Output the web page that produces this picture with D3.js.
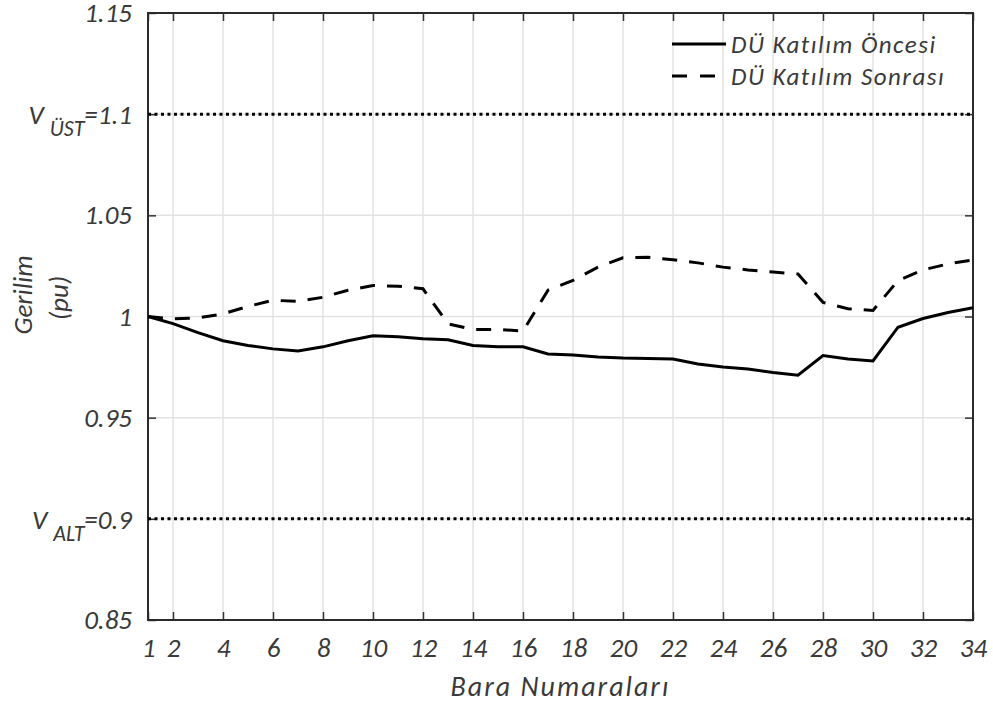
<!DOCTYPE html>
<html>
<head>
<meta charset="utf-8">
<script src="https://d3js.org/d3.v7.min.js"></script>
<style>
    body { margin: 0; background: #fff; }
    svg text { font-family: Carlito, Calibri, Lato, sans-serif; font-style: italic; fill: #3a3a3a; }
</style>
</head>
<body>
<div id="chart"></div>
<script>
// bus numbers 1..34
var buses = d3.range(1, 35);

// voltage before DG participation (pu)
var beforeDG = [1.000, 0.9965, 0.992, 0.988, 0.9857, 0.984, 0.983, 0.985, 0.988, 0.9905,
    0.990, 0.989, 0.9885, 0.9857, 0.985, 0.985, 0.9815, 0.981, 0.980, 0.9795,
    0.9793, 0.979, 0.9765, 0.975, 0.974, 0.9723, 0.971, 0.9807, 0.979, 0.978,
    0.9947, 0.999, 1.002, 1.0043];

// voltage after DG participation (pu)
var afterDG = [1.000, 0.9988, 0.9993, 1.0013, 1.005, 1.008, 1.0075, 1.0095, 1.013, 1.0153,
    1.015, 1.0137, 0.9964, 0.9936, 0.9936, 0.9928, 1.013, 1.0178, 1.0244, 1.029,
    1.0293, 1.028, 1.0265, 1.0244, 1.023, 1.022, 1.021, 1.007, 1.0038, 1.003,
    1.0178, 1.023, 1.026, 1.028];

var xTicks = [1, 2, 4, 6, 8, 10, 12, 14, 16, 18, 20, 22, 24, 26, 28, 30, 32, 34];
var yTicks = [0.85, 0.9, 0.95, 1, 1.05, 1.1, 1.15];
var limits = [
    { value: 1.1, name: 'V', sub: 'ÜST', label: '=1.1' },
    { value: 0.9, name: 'V', sub: 'ALT', label: '=0.9' }
];
var seriesNames = ['DÜ Katılım Öncesi', 'DÜ Katılım Sonrası'];

var width = 993, height = 704;
var margin = { top: 13, right: 20, bottom: 84, left: 148 };
var innerW = width - margin.left - margin.right;
var innerH = height - margin.top - margin.bottom;

var svg = d3.select('#chart').append('svg')
    .attr('width', width)
    .attr('height', height);

var g = svg.append('g')
    .attr('transform', 'translate(' + margin.left + ',' + margin.top + ')');

var x = d3.scaleLinear().domain([1, 34]).range([0, innerW]);
var y = d3.scaleLinear().domain([0.85, 1.15]).range([innerH, 0]);

/////////////////////////////
// Grid
/////////////////////////////
g.selectAll('.vgrid')
    .data(xTicks.slice(1, -1))
    .enter().append('line')
    .attr('x1', function (d) { return x(d); })
    .attr('x2', function (d) { return x(d); })
    .attr('y1', 0).attr('y2', innerH)
    .attr('stroke', '#e2e2e2').attr('stroke-width', 1.5);

g.selectAll('.hgrid')
    .data(yTicks.slice(1, -1))
    .enter().append('line')
    .attr('y1', function (d) { return y(d); })
    .attr('y2', function (d) { return y(d); })
    .attr('x1', 0).attr('x2', innerW)
    .attr('stroke', '#e2e2e2').attr('stroke-width', 1.5);

/////////////////////////////
// Axes (ticks inside, box)
/////////////////////////////
var tickLen = 8;
var bottomAxis = g.append('g')
    .attr('transform', 'translate(0,' + innerH + ')')
    .call(d3.axisBottom(x).tickValues(xTicks).tickSizeInner(-tickLen).tickSizeOuter(0).tickPadding(18));
var topAxis = g.append('g')
    .call(d3.axisTop(x).tickValues(xTicks).tickSizeInner(-tickLen).tickSizeOuter(0).tickFormat(''));
var leftAxis = g.append('g')
    .call(d3.axisLeft(y).tickValues(yTicks).tickSizeInner(-tickLen).tickSizeOuter(0).tickPadding(16)
        .tickFormat(function (d) { return (d === 1.1 || d === 0.9) ? '' : d3.format('')(d); }));
var rightAxis = g.append('g')
    .attr('transform', 'translate(' + innerW + ',0)')
    .call(d3.axisRight(y).tickValues(yTicks).tickSizeInner(-tickLen).tickSizeOuter(0).tickFormat(''));

[bottomAxis, topAxis, leftAxis, rightAxis].forEach(function (a) {
    a.select('.domain').remove();
    a.selectAll('.tick line').attr('stroke', '#333').attr('stroke-width', 1.5);
    a.selectAll('text').attr('font-size', 27).attr('fill', '#3a3a3a');
});

g.append('rect')
    .attr('x', 0).attr('y', 0)
    .attr('width', innerW).attr('height', innerH)
    .attr('fill', 'none')
    .attr('stroke', '#2b2b2b')
    .attr('stroke-width', 2);

// limit labels with subscript
limits.forEach(function (l) {
    var t = g.append('text')
        .attr('x', -16)
        .attr('y', y(l.value) + 10)
        .attr('text-anchor', 'end')
        .attr('font-size', 27);
    t.append('tspan').text(l.name);
    t.append('tspan').attr('dx', 6).attr('dy', 12).attr('font-size', 22).text(l.sub);
    t.append('tspan').attr('dy', -12).text(l.label);
});

/////////////////////////////
// Limit lines
/////////////////////////////
g.selectAll('.limit')
    .data(limits)
    .enter().append('line')
    .attr('x1', 0).attr('x2', innerW)
    .attr('y1', function (d) { return y(d.value); })
    .attr('y2', function (d) { return y(d.value); })
    .attr('stroke', '#000')
    .attr('stroke-width', 3)
    .attr('stroke-dasharray', '3,3.5');

/////////////////////////////
// Series
/////////////////////////////
var line = d3.line()
    .x(function (d) { return x(d[0]); })
    .y(function (d) { return y(d[1]); });

g.append('path')
    .datum(buses.map(function (b, i) { return [b, beforeDG[i]]; }))
    .attr('d', line)
    .attr('fill', 'none')
    .attr('stroke', '#000')
    .attr('stroke-width', 3);

g.append('path')
    .datum(buses.map(function (b, i) { return [b, afterDG[i]]; }))
    .attr('d', line)
    .attr('fill', 'none')
    .attr('stroke', '#000')
    .attr('stroke-width', 3)
    .attr('stroke-dasharray', '15,12');

/////////////////////////////
// Legend
/////////////////////////////
var lg = g.append('g')
    .attr('transform', 'translate(' + (672 - margin.left) + ',' + (44 - margin.top) + ')');
lg.selectAll('line')
    .data(seriesNames)
    .enter().append('line')
    .attr('x1', 0).attr('x2', 54)
    .attr('y1', function (d, i) { return i * 32; })
    .attr('y2', function (d, i) { return i * 32; })
    .attr('stroke', '#000')
    .attr('stroke-width', 3)
    .attr('stroke-dasharray', function (d, i) { return i === 0 ? null : '15,13'; });
lg.selectAll('text')
    .data(seriesNames)
    .enter().append('text')
    .attr('x', 59)
    .attr('y', function (d, i) { return i * 32 + 9; })
    .attr('font-size', 25)
    .attr('letter-spacing', 1.5)
    .text(function (d) { return d; });

/////////////////////////////
// Axis titles
/////////////////////////////
svg.append('text')
    .attr('x', margin.left + innerW / 2)
    .attr('y', 696)
    .attr('text-anchor', 'middle')
    .attr('font-size', 28)
    .attr('letter-spacing', 2)
    .text('Bara Numaraları');

svg.append('text')
    .attr('transform', 'translate(32,295) rotate(-90)')
    .attr('text-anchor', 'middle')
    .attr('font-size', 27)
    .text('Gerilim');
svg.append('text')
    .attr('transform', 'translate(68,298) rotate(-90)')
    .attr('text-anchor', 'middle')
    .attr('font-size', 27)
    .text('(pu)');
</script>
</body>
</html>
